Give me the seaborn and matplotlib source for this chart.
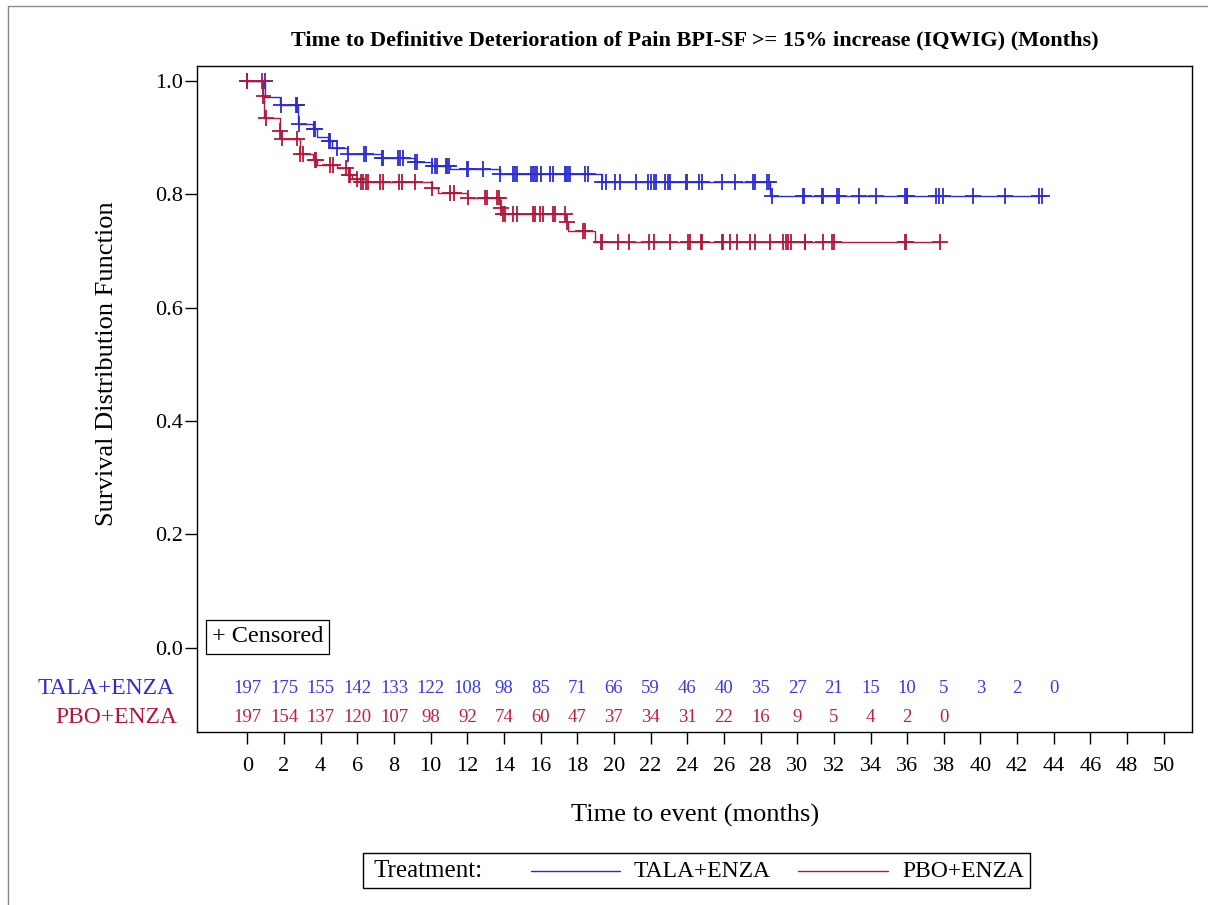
import numpy as np
import pandas as pd
import matplotlib
matplotlib.use("Agg")
import matplotlib.pyplot as plt
import seaborn as sns
from matplotlib.lines import Line2D
from matplotlib.patches import Rectangle
from matplotlib.transforms import blended_transform_factory

# ---------------- data ----------------
arms = ["TALA+ENZA", "PBO+ENZA"]

tala_event_times = [0.97, 1.78, 2.78, 3.60, 3.79, 4.42, 4.60, 5.42, 7.33, 9.15, 10.06, 11.06, 13.80, 19.33, 28.50]
tala_surv = [0.972, 0.957, 0.924, 0.915, 0.901, 0.894, 0.882, 0.871, 0.864, 0.857, 0.850, 0.844, 0.835, 0.822, 0.797]
tala_censor_times = [0.0, 0.95, 1.85, 2.64, 2.72, 2.82, 3.62, 3.70, 4.45, 4.52, 4.90, 5.50, 6.37, 6.46, 7.33, 7.42,
                     8.24, 8.33, 8.48, 9.15, 9.27, 10.10, 10.24, 10.36, 10.84, 10.90, 11.00, 11.97, 12.06,
                     12.88, 13.80, 14.50, 14.60, 14.70, 15.50, 15.60, 15.70, 15.80, 16.00, 16.50, 16.66,
                     17.33, 17.40, 17.50, 17.60, 18.40, 18.60, 19.33, 19.57, 20.06, 20.33, 21.20, 21.88,
                     22.00, 22.19, 22.30, 22.80, 22.97, 23.06, 23.93, 24.00, 24.66, 24.79, 25.88, 26.60,
                     27.60, 27.70, 28.37, 28.45, 28.60, 30.33, 30.36, 31.34, 31.39, 32.15, 32.30, 33.37,
                     34.28, 35.88, 35.98, 36.00, 37.56, 37.75, 37.94, 39.57, 41.34, 43.20, 43.36]

pbo_event_times = [0.85, 0.92, 1.78, 1.85, 2.87, 3.60, 3.79, 4.88, 5.50, 5.70, 6.15, 10.06, 10.40, 11.97, 13.80,
                   13.90, 17.40, 17.50, 18.97]
pbo_surv = [0.973, 0.934, 0.912, 0.898, 0.871, 0.860, 0.851, 0.846, 0.834, 0.826, 0.821, 0.810, 0.802, 0.794,
            0.775, 0.765, 0.750, 0.735, 0.716]
pbo_censor_times = [0.0, 0.80, 0.88, 1.00, 1.80, 1.88, 2.70, 2.90, 3.06, 3.70, 3.75, 4.50, 4.66, 5.38, 5.52,
                    5.60, 6.00, 6.20, 6.30, 6.45, 6.60, 7.24, 7.38, 8.30, 8.42, 9.15, 10.06, 11.06, 11.28,
                    12.06, 12.97, 13.10, 13.64, 13.75, 13.85, 13.97, 14.06, 14.50, 14.70, 15.60, 15.70,
                    15.97, 16.15, 16.70, 16.79, 17.33, 17.45, 18.30, 18.40, 19.30, 19.33, 20.20, 20.80,
                    21.90, 22.20, 23.06, 24.06, 24.15, 24.75, 24.80, 25.90, 25.95, 26.35, 26.70, 27.40,
                    27.70, 28.50, 29.24, 29.39, 29.50, 29.65, 30.40, 30.43, 31.40, 31.90, 32.00, 35.90,
                    35.95, 37.80]

tala_at_risk = [197, 175, 155, 142, 133, 122, 108, 98, 85, 71, 66, 59, 46, 40, 35, 27, 21, 15, 10, 5, 3, 2, 0]
pbo_at_risk = [197, 154, 137, 120, 107, 98, 92, 74, 60, 47, 37, 34, 31, 22, 16, 9, 5, 4, 2, 0]
risk_time_step = 2

x_ticks = list(range(0, 51, 2))
y_ticks = [0.0, 0.2, 0.4, 0.6, 0.8, 1.0]

title = "Time to Definitive Deterioration of Pain BPI-SF >= 15% increase (IQWIG) (Months)"
xlabel = "Time to event (months)"
ylabel = "Survival Distribution Function"

colors = {"TALA+ENZA": "#2c2cd4", "PBO+ENZA": "#b3173a"}
text_colors = {"TALA+ENZA": "#3a3ae0", "PBO+ENZA": "#c0203f"}

# ------------- build tables -------------
def step_table(arm, ev_t, ev_s, cens):
    end = max(max(cens), max(ev_t))
    t = [0.0] + list(ev_t) + [end]
    s = [1.0] + list(ev_s) + [ev_s[-1]]
    return pd.DataFrame({"time": t, "surv": s, "arm": arm})

def censor_table(arm, ev_t, ev_s, cens):
    ev_t = np.asarray(ev_t)
    levels = np.concatenate([[1.0], ev_s])
    idx = np.searchsorted(ev_t, np.asarray(cens), side="right")
    return pd.DataFrame({"time": cens, "surv": levels[idx], "arm": arm})

curves = pd.concat([step_table("TALA+ENZA", tala_event_times, tala_surv, tala_censor_times),
                    step_table("PBO+ENZA", pbo_event_times, pbo_surv, pbo_censor_times)], ignore_index=True)
censors = pd.concat([censor_table("TALA+ENZA", tala_event_times, tala_surv, tala_censor_times),
                     censor_table("PBO+ENZA", pbo_event_times, pbo_surv, pbo_censor_times)], ignore_index=True)

# ------------- plot -------------
sns.set_theme(style="ticks")
plt.rcParams["font.family"] = ["Liberation Serif", "DejaVu Serif"]
for key in ("text.color", "axes.labelcolor", "xtick.color", "ytick.color", "axes.edgecolor"):
    plt.rcParams[key] = "black"

fig = plt.figure(figsize=(12.08, 9.05), dpi=100)
ax = fig.add_axes([0.16333, 0.19083, 0.82343, 0.73591])

sns.lineplot(data=curves, x="time", y="surv", hue="arm", palette=colors, drawstyle="steps-post",
             estimator=None, sort=False, linewidth=1.0, legend=False, ax=ax)
sns.scatterplot(data=censors, x="time", y="surv", hue="arm", palette=colors, marker="+",
                s=130, linewidth=1.3, legend=False, ax=ax, zorder=3)

ax.set_xlim(-2.73, 51.54)
ax.set_ylim(-0.1492, 1.0254)
ax.set_xticks(x_ticks)
ax.set_xticklabels([str(v) for v in x_ticks])
ax.set_yticks(y_ticks)
ax.set_yticklabels([f"{v:.1f}" for v in y_ticks])
ax.tick_params(axis="x", length=8.6, width=1.0, pad=9, labelsize=16, color="black", labelcolor="black")
ax.tick_params(axis="y", length=8.6, width=1.0, pad=2, labelsize=16, color="black", labelcolor="black")
for sp in ax.spines.values():
    sp.set_visible(True)
    sp.set_color("black")
    sp.set_linewidth(1.0)

ax.set_xlabel(xlabel, fontsize=19, color="black")
ax.set_ylabel(ylabel, fontsize=19, color="black")
ax.xaxis.set_label_coords(0.5, -0.108)
ax.yaxis.set_label_coords(-0.080, 0.553)

fig.text(0.5750, 1 - 40 / 905, title, ha="center", va="center", fontsize=16, fontweight="bold",
         color="black")

# censored box
ax.text(-1.95, 0.019, "+ Censored", ha="left", va="center", fontsize=17.5, color="black",
        bbox=dict(boxstyle="square,pad=0.25", facecolor="white", edgecolor="black", linewidth=0.9))

# at-risk rows
row_y = {"TALA+ENZA": -0.0716, "PBO+ENZA": -0.1235}
for arm, counts in (("TALA+ENZA", tala_at_risk), ("PBO+ENZA", pbo_at_risk)):
    for i, n in enumerate(counts):
        ax.text(i * risk_time_step, row_y[arm], str(n), ha="center", va="center",
                fontsize=13.5, color=text_colors[arm])
trans = blended_transform_factory(ax.transAxes, ax.transData)
ax.text(-0.0224, row_y["TALA+ENZA"], "TALA+ENZA", transform=trans, ha="right", va="center",
        fontsize=17, color=colors["TALA+ENZA"], clip_on=False)
ax.text(-0.0205, row_y["PBO+ENZA"], "PBO+ENZA", transform=trans, ha="right", va="center",
        fontsize=17, color=colors["PBO+ENZA"], clip_on=False)

# bottom legend (drawn manually)
W, H = 1208.0, 905.0
def fx(px):
    return px / W
def fy(py):
    return 1 - py / H
fig.patches.append(Rectangle((fx(363), fy(888)), fx(1030) - fx(363), fy(853) - fy(888),
                             transform=fig.transFigure, facecolor="white", edgecolor="black", linewidth=1.0))
ly = fy(871)
fig.text(fx(373), ly, "Treatment:", ha="left", va="center", fontsize=18, color="black")
fig.lines.append(Line2D([fx(531), fx(620)], [ly, ly], transform=fig.transFigure,
                        color=colors["TALA+ENZA"], linewidth=1.0))
fig.text(fx(634), ly, "TALA+ENZA", ha="left", va="center", fontsize=17, color="black")
fig.lines.append(Line2D([fx(798), fx(888)], [ly, ly], transform=fig.transFigure,
                        color=colors["PBO+ENZA"], linewidth=1.0))
fig.text(fx(902), ly, "PBO+ENZA", ha="left", va="center", fontsize=17, color="black")

# page border lines
fig.lines.append(Line2D([fx(8), fx(8)], [fy(6), 0], transform=fig.transFigure, color="#8a8a8a", linewidth=1.0))
fig.lines.append(Line2D([fx(8), 1], [fy(6), fy(6)], transform=fig.transFigure, color="#8a8a8a", linewidth=1.0))

fig.savefig("out.png", dpi=100)
